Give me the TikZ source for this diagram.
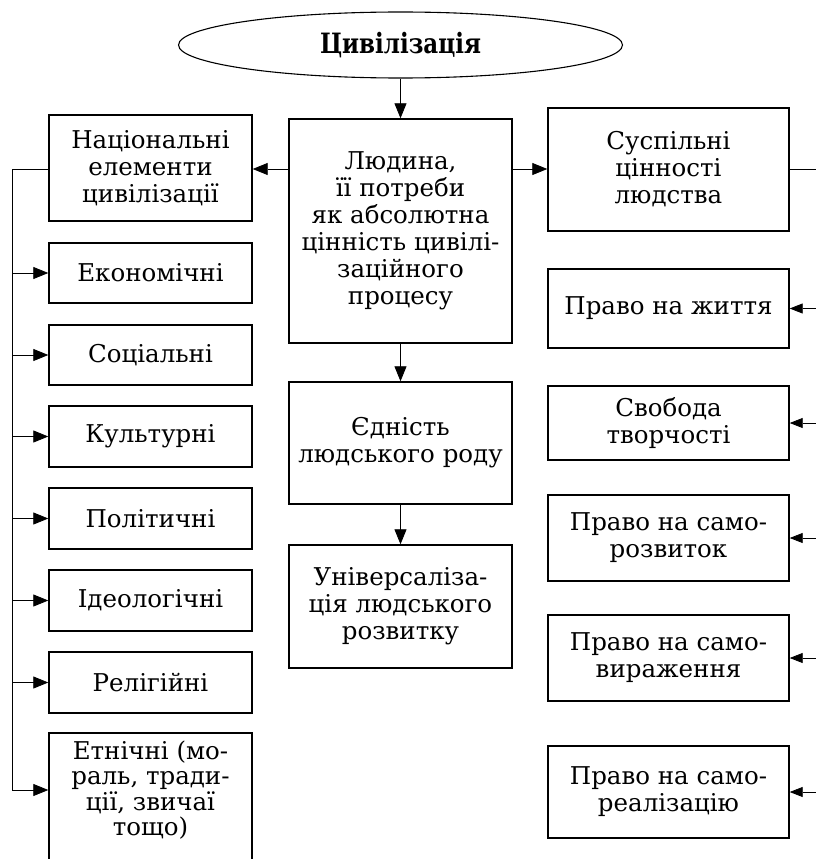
\documentclass[tikz,border=0pt]{standalone}
\usepackage{fontspec}
\setmainfont{DejaVu Serif}
\newfontfamily\titlef{DejaVu Serif}[FakeStretch=0.82]
\usetikzlibrary{arrows.meta,shapes.geometric}
\tikzset{
  box/.style={draw, line width=1.4pt, align=center, inner sep=0pt, font=\fontsize{24.5}{27}\selectfont},
  lbox/.style={box, minimum width=203pt},
  cbox/.style={box, minimum width=223pt},
  rbox/.style={box, minimum width=241pt},
  con/.style={line width=0.8pt},
  arr/.style={con, -{Triangle[length=15pt,width=12pt]}},
  arrs/.style={con, -{Triangle[length=13pt,width=10pt]}},
}
\begin{document}
\begin{tikzpicture}[x=1pt,y=-1pt]
\useasboundingbox (0,0) rectangle (816,859);
\clip (0,0) rectangle (816,859);
\node[ellipse, draw, line width=1.1pt, minimum width=444pt, minimum height=66pt, inner sep=0pt,
  font=\fontsize{28}{30}\titlef\bfseries] (civ) at (400.5,45) {Цивілізація};
% centre column
\node[cbox, minimum height=224pt] (lud) at (400.5,231) {Людина,\\її потреби\\як абсолютна\\цінність цивілі-\\заційного\\процесу};
\node[cbox, minimum height=122pt] (edn) at (400.5,443) {Єдність\\людського роду};
\node[cbox, minimum height=123pt] (uni) at (400.5,606.5) {Універсаліза-\\ція людського\\розвитку};
% left column
\node[lbox, minimum height=106pt] (nat) at (150.5,168) {Національні\\елементи\\цивілізації};
\node[lbox, minimum height=60pt] (eko) at (150.5,273) {Економічні};
\node[lbox, minimum height=60pt] (soc) at (150.5,355) {Соціальні};
\node[lbox, minimum height=61pt] (kul) at (150.5,436.5) {Культурні};
\node[lbox, minimum height=61pt] (pol) at (150.5,518.5) {Політичні};
\node[lbox, minimum height=61pt] (ide) at (150.5,600.5) {Ідеологічні};
\node[lbox, minimum height=61pt] (rel) at (150.5,682.5) {Релігійні};
\node[lbox, minimum height=147pt] (etnbox) at (150.5,806.5) {};
\node[align=center, inner sep=0pt, font=\fontsize{24.5}{25.5}\selectfont] (etn) at (150.5,790) {Етнічні (мо-\\раль, тради-\\ції, звичаї\\тощо)};
% right column
\node[rbox, minimum height=123pt] (sus) at (668.5,169.5) {Суспільні\\цінності\\людства};
\node[rbox, minimum height=79pt] (zhy) at (668.5,308.5) {Право на життя};
\node[rbox, minimum height=74pt] (svo) at (668.5,423) {Свобода\\творчості};
\node[rbox, minimum height=86pt] (roz) at (668.5,538) {Право на само-\\розвиток};
\node[rbox, minimum height=86pt] (vyr) at (668.5,658) {Право на само-\\вираження};
\node[rbox, minimum height=92pt] (rea) at (668.5,792) {Право на само-\\реалізацію};
% trunks
\coordinate (lt) at (12,0);
\coordinate (rt) at (818,0);
% connectors
\draw[arr] (civ) -- (lud);
\draw[arr] (lud) -- (edn);
\draw[arr] (edn) -- (uni);
\draw[arr] (lud.west |- 0,169) -- (nat.east |- 0,169);
\draw[arr] (lud.east |- 0,169) -- (sus.west |- 0,169);
\draw[con] (sus.east |- 0,169) -- (rt |- 0,169);
\draw[con] (nat.west |- 0,169) -| (lt |- etn);
\foreach \b in {eko,soc,kul,pol,ide,rel}
  \draw[arr] (lt |- \b.west) -- (\b.west);
\draw[arr] (lt |- etn) -- (etnbox.west |- etn);
\foreach \b in {zhy,svo,roz,vyr,rea}
  \draw[arrs] (rt |- \b.east) -- (\b.east);
\end{tikzpicture}
\end{document}
